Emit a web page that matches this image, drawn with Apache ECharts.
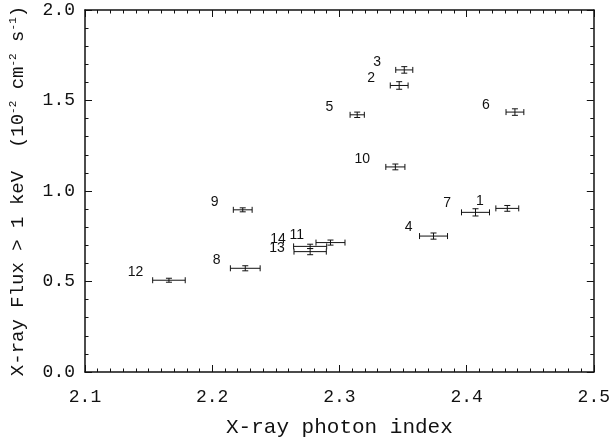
<!DOCTYPE html>
<html>
<head>
<meta charset="utf-8">
<script src="https://cdn.jsdelivr.net/npm/echarts@6/dist/echarts.min.js"></script>
<style>html,body{margin:0;padding:0;background:#fff}#c{width:613px;height:443px}</style>
</head>
<body>
<div id="c"></div>
<script>
var ids = [1, 2, 3, 4, 5, 6, 7, 8, 9, 10, 11, 12, 13, 14];
var photonIndex = [2.432, 2.347, 2.351, 2.374, 2.314, 2.438, 2.407, 2.226, 2.224, 2.344, 2.293, 2.166, 2.277, 2.277];
var indexErr = [0.009, 0.007, 0.0067, 0.011, 0.0056, 0.007, 0.011, 0.0117, 0.0074, 0.0075, 0.0114, 0.0128, 0.0127, 0.013];
var flux = [0.904, 1.583, 1.669, 0.751, 1.421, 1.436, 0.882, 0.573, 0.896, 1.133, 0.715, 0.507, 0.665, 0.694];
var fluxErr = [0.016, 0.021, 0.018, 0.017, 0.015, 0.018, 0.02, 0.014, 0.011, 0.016, 0.014, 0.011, 0.017, 0.012];
var labelX = [2.4105, 2.3249, 2.3296, 2.3545, 2.2922, 2.4152, 2.3848, 2.2035, 2.2019, 2.3179, 2.2665, 2.1397, 2.251, 2.2518];
var labelY = [0.942, 1.625, 1.713, 0.799, 1.466, 1.477, 0.931, 0.617, 0.937, 1.174, 0.755, 0.551, 0.683, 0.733];
var xTicks = [2.1, 2.2, 2.3, 2.4, 2.5];
var yTicks = [0.0, 0.5, 1.0, 1.5, 2.0];

var errData = ids.map(function (d, i) { return [photonIndex[i], flux[i], indexErr[i], fluxErr[i]]; });
var labData = ids.map(function (d, i) { return [labelX[i], labelY[i], d]; });

var ink = '#111';
var tickFont = 'Liberation Mono';

function errorBar(params, api) {
  var x = api.value(0), y = api.value(1), ex = api.value(2), ey = api.value(3);
  var l = api.coord([x - ex, y]), r = api.coord([x + ex, y]);
  var b = api.coord([x, y - ey]), t = api.coord([x, y + ey]);
  var c = 3;
  var st = { stroke: ink, lineWidth: 1, fill: null };
  return {
    type: 'group',
    children: [
      { type: 'line', shape: { x1: l[0], y1: l[1], x2: r[0], y2: r[1] }, style: st },
      { type: 'line', shape: { x1: l[0], y1: l[1] - c, x2: l[0], y2: l[1] + c }, style: st },
      { type: 'line', shape: { x1: r[0], y1: r[1] - c, x2: r[0], y2: r[1] + c }, style: st },
      { type: 'line', shape: { x1: b[0], y1: b[1], x2: t[0], y2: t[1] }, style: st },
      { type: 'line', shape: { x1: b[0] - c, y1: b[1], x2: b[0] + c, y2: b[1] }, style: st },
      { type: 'line', shape: { x1: t[0] - c, y1: t[1], x2: t[0] + c, y2: t[1] }, style: st }
    ]
  };
}

function labelItem(params, api) {
  var p = api.coord([api.value(0), api.value(1)]);
  return {
    type: 'text',
    x: p[0], y: p[1],
    style: { text: String(api.value(2)), fill: ink, font: '14px "Liberation Sans"', align: 'center', verticalAlign: 'middle' }
  };
}

function axisCommon(extra) {
  var o = {
    axisLine: { show: true, onZero: false, lineStyle: { color: ink, width: 1.5 } },
    axisTick: { show: true, inside: true, length: 7, lineStyle: { color: ink, width: 1 } },
    minorTick: { show: true, length: 3.5, lineStyle: { color: ink, width: 1 } },
    splitLine: { show: false }
  };
  for (var k in extra) o[k] = extra[k];
  return o;
}

var chart = echarts.init(document.getElementById('c'), null, { renderer: 'canvas' });
chart.setOption({
  backgroundColor: '#fff',
  animation: false,
  grid: { left: 83, right: 16, top: 10, bottom: 70, containLabel: false },
  xAxis: [
    axisCommon({
      type: 'value', min: xTicks[0], max: xTicks[xTicks.length - 1], interval: 0.1, position: 'bottom',
      minorTick: { show: true, splitNumber: 10, length: 3.5, lineStyle: { color: ink, width: 1 } },
      axisLabel: { show: true, margin: 16, color: ink, fontFamily: tickFont, fontSize: 18, formatter: function (v) { return v.toFixed(1); } },
      name: 'X-ray photon index', nameLocation: 'middle', nameGap: 45,
      nameTextStyle: { color: ink, fontFamily: tickFont, fontSize: 21 }
    }),
    axisCommon({
      type: 'value', min: xTicks[0], max: xTicks[xTicks.length - 1], interval: 0.1, position: 'top',
      minorTick: { show: true, splitNumber: 10, length: 3.5, lineStyle: { color: ink, width: 1 } },
      axisLabel: { show: false }
    })
  ],
  yAxis: [
    axisCommon({
      type: 'value', min: yTicks[0], max: yTicks[yTicks.length - 1], interval: 0.5, position: 'left',
      minorTick: { show: true, splitNumber: 5, length: 3.5, lineStyle: { color: ink, width: 1 } },
      axisLabel: { show: true, margin: 10, color: ink, fontFamily: tickFont, fontSize: 18, formatter: function (v) { return v.toFixed(1); } },
      name: 'X-ray Flux > 1 keV  (10{s|-2} cm{s|-2} s{s|-1})', nameLocation: 'middle', nameGap: 58,
      nameTextStyle: { color: ink, fontFamily: tickFont, fontSize: 19, rich: { s: { fontFamily: tickFont, fontSize: 11, verticalAlign: 'top', padding: [0, 0, 8, 0], color: ink } } }
    }),
    axisCommon({
      type: 'value', min: yTicks[0], max: yTicks[yTicks.length - 1], interval: 0.5, position: 'right',
      minorTick: { show: true, splitNumber: 5, length: 3.5, lineStyle: { color: ink, width: 1 } },
      axisLabel: { show: false }
    })
  ],
  series: [
    { type: 'custom', xAxisIndex: 0, yAxisIndex: 0, renderItem: errorBar, data: errData, encode: { x: 0, y: 1 }, clip: false },
    { type: 'custom', xAxisIndex: 0, yAxisIndex: 0, renderItem: labelItem, data: labData, encode: { x: 0, y: 1 }, clip: false }
  ]
});
</script>
</body>
</html>
